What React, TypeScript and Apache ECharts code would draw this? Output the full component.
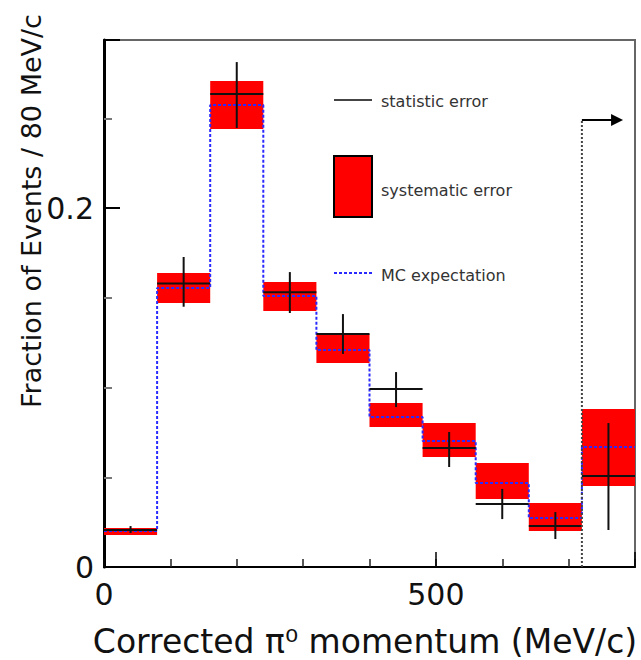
import React, { useEffect, useRef } from 'react';
import * as echarts from 'echarts';

// Bin edges (MeV/c), 80 MeV/c bins
const binEdges = [0, 80, 160, 240, 320, 400, 480, 560, 640, 720, 800];
// Measured fraction (central value) and statistical error range
const statValue = [0.0206, 0.158, 0.2635, 0.153, 0.1298, 0.0992, 0.0663, 0.0351, 0.0228, 0.0507];
const statLow = [0.019, 0.145, 0.2446, 0.1415, 0.1187, 0.0891, 0.0557, 0.0267, 0.0156, 0.0206];
const statHigh = [0.0228, 0.1727, 0.2813, 0.1643, 0.1409, 0.1086, 0.0752, 0.0435, 0.0306, 0.0802];
// Systematic error band
const sysLow = [0.0178, 0.1471, 0.244, 0.1426, 0.1136, 0.078, 0.0613, 0.0379, 0.0201, 0.0451];
const sysHigh = [0.0217, 0.1638, 0.2708, 0.1588, 0.1298, 0.0914, 0.0802, 0.0579, 0.0357, 0.088];
// MC expectation
const mcValue = [0.0201, 0.1554, 0.2574, 0.151, 0.1209, 0.0836, 0.0702, 0.0468, 0.0273, 0.0669];
// Cut indicator
const cutMomentum = 720;
const arrowEnd = 782;
const arrowLevel = 0.249;
// Tick labels
const xTickLabels = [0, 500];
const yTickLabels = [0, 0.2];

const FONT = 'DejaVu Sans';

export default function App() {
  const ref = useRef<HTMLDivElement>(null);
  useEffect(() => {
    if (!ref.current) return;
    const chart = echarts.init(ref.current, undefined, { renderer: 'svg' });

    const boxData = sysLow.map((lo, i) => [binEdges[i], binEdges[i + 1], lo, sysHigh[i]]);
    const statData = statValue.map((v, i) => [binEdges[i], binEdges[i + 1], v, statLow[i], statHigh[i]]);
    const mcData = mcValue.map((v, i) => [binEdges[i], v]);
    mcData.push([binEdges[binEdges.length - 1], mcValue[mcValue.length - 1]]);

    const option: any = {
      animation: false,
      grid: { left: 104, right: 6, top: 40, bottom: 93, show: true, borderColor: '#666', borderWidth: 2, backgroundColor: 'transparent' },
      xAxis: [
        {
          type: 'value', min: 0, max: 800, interval: 100, position: 'bottom',
          axisLine: { show: true, lineStyle: { color: '#000', width: 2 } },
          axisTick: { show: true, inside: true, length: 8, lineStyle: { color: '#222', width: 1.5 } },
          axisLabel: { show: false },
          splitLine: { show: false },
        },
        {
          type: 'value', min: 0, max: 800, interval: 500, position: 'bottom',
          axisLine: { show: false },
          axisTick: { show: true, inside: true, length: 15, lineStyle: { color: '#000', width: 1.5 } },
          axisLabel: {
            show: true, margin: 12, fontSize: 30, fontFamily: FONT, color: '#111',
            formatter: (v: number) => (xTickLabels.includes(v) ? String(v) : ''),
          },
          splitLine: { show: false },
        },
      ],
      yAxis: [
        {
          type: 'value', min: 0, max: 0.2936, interval: 0.05, position: 'left',
          axisLine: { show: true, lineStyle: { color: '#000', width: 3 } },
          axisTick: { show: true, inside: true, length: 8, lineStyle: { color: '#777', width: 2 } },
          axisLabel: { show: false },
          splitLine: { show: false },
        },
        {
          type: 'value', min: 0, max: 0.2936, interval: 0.2, position: 'left',
          axisLine: { show: false },
          axisTick: { show: true, inside: true, length: 16, lineStyle: { color: '#000', width: 2 } },
          axisLabel: {
            show: true, margin: 10, fontSize: 30, fontFamily: FONT, color: '#111', padding: [10, 0, 0, 0],
            formatter: (v: number) => (yTickLabels.some((t) => Math.abs(t - v) < 1e-9) ? String(v) : ''),
          },
          splitLine: { show: false },
        },
      ],
      series: [
        {
          type: 'custom', name: 'systematic error', xAxisIndex: 0, yAxisIndex: 0, z: 2,
          encode: { x: [0, 1], y: [2, 3] },
          data: boxData,
          renderItem: (params: any, api: any) => {
            const p1 = api.coord([api.value(0), api.value(3)]);
            const p2 = api.coord([api.value(1), api.value(2)]);
            return {
              type: 'rect',
              shape: { x: p1[0], y: p1[1], width: p2[0] - p1[0], height: p2[1] - p1[1] },
              style: { fill: '#ff0000' },
            };
          },
        },
        {
          type: 'line', name: 'MC expectation', step: 'end', xAxisIndex: 0, yAxisIndex: 0, z: 3,
          data: mcData, symbol: 'none',
          lineStyle: { color: '#2a2aff', width: 2, type: [3, 2] },
        },
        {
          type: 'custom', name: 'statistic error', xAxisIndex: 0, yAxisIndex: 0, z: 4,
          encode: { x: [0, 1], y: [2, 3, 4] },
          data: statData,
          renderItem: (params: any, api: any) => {
            const x0 = api.value(0), x1 = api.value(1);
            const xm = (x0 + x1) / 2;
            const a = api.coord([x0, api.value(2)]);
            const b = api.coord([x1, api.value(2)]);
            const lo = api.coord([xm, api.value(3)]);
            const hi = api.coord([xm, api.value(4)]);
            const st = { stroke: '#111', lineWidth: 2 };
            return {
              type: 'group',
              children: [
                { type: 'line', shape: { x1: a[0], y1: a[1], x2: b[0], y2: b[1] }, style: st },
                { type: 'line', shape: { x1: lo[0], y1: lo[1], x2: hi[0], y2: hi[1] }, style: st },
              ],
            };
          },
        },
        {
          type: 'custom', name: 'cut', xAxisIndex: 0, yAxisIndex: 0, z: 5,
          encode: { x: [0, 1], y: [2] },
          data: [[cutMomentum, arrowEnd, arrowLevel]],
          renderItem: (params: any, api: any) => {
            const base = api.coord([api.value(0), 0]);
            const top = api.coord([api.value(0), api.value(2)]);
            const tip = api.coord([api.value(1), api.value(2)]);
            return {
              type: 'group',
              children: [
                { type: 'line', shape: { x1: base[0], y1: base[1], x2: top[0], y2: top[1] }, style: { stroke: '#444', lineWidth: 2, lineDash: [2, 2] } },
                { type: 'line', shape: { x1: top[0], y1: top[1], x2: tip[0] - 10, y2: tip[1] }, style: { stroke: '#000', lineWidth: 2 } },
                { type: 'polygon', shape: { points: [[tip[0], tip[1]], [tip[0] - 12, tip[1] - 6], [tip[0] - 12, tip[1] + 6]] }, style: { fill: '#000' } },
              ],
            };
          },
        },
      ],
      graphic: [
        {
          type: 'text', x: 31, y: 211, rotation: Math.PI / 2, z: 10,
          style: { text: 'Fraction of Events / 80 MeV/c', fontSize: 27, fontFamily: FONT, fill: '#111', align: 'center', verticalAlign: 'middle' },
        },
        {
          type: 'text', x: 365, y: 641, z: 10,
          style: { text: 'Corrected π⁰ momentum (MeV/c)', fontSize: 33, fontFamily: FONT, fill: '#111', align: 'center', verticalAlign: 'middle' },
        },
        { type: 'line', z: 10, shape: { x1: 334, y1: 100, x2: 372, y2: 100 }, style: { stroke: '#444', lineWidth: 2 } },
        { type: 'text', x: 381, y: 101, z: 10, style: { text: 'statistic error', fontSize: 16, fontFamily: FONT, fill: '#333', verticalAlign: 'middle' } },
        { type: 'rect', z: 10, shape: { x: 334, y: 156, width: 38, height: 61 }, style: { fill: '#ff0000', stroke: '#000', lineWidth: 2 } },
        { type: 'text', x: 381, y: 190, z: 10, style: { text: 'systematic error', fontSize: 16, fontFamily: FONT, fill: '#333', verticalAlign: 'middle' } },
        { type: 'line', z: 10, shape: { x1: 334, y1: 273, x2: 372, y2: 273 }, style: { stroke: '#2a2aff', lineWidth: 2, lineDash: [3, 2] } },
        { type: 'text', x: 381, y: 275, z: 10, style: { text: 'MC expectation', fontSize: 16, fontFamily: FONT, fill: '#333', verticalAlign: 'middle' } },
      ],
    };
    chart.setOption(option);
    return () => chart.dispose();
  }, []);
  return <div ref={ref} style={{ position: 'fixed', left: 0, top: 0, width: 641, height: 660, background: '#fff' }} />;
}
